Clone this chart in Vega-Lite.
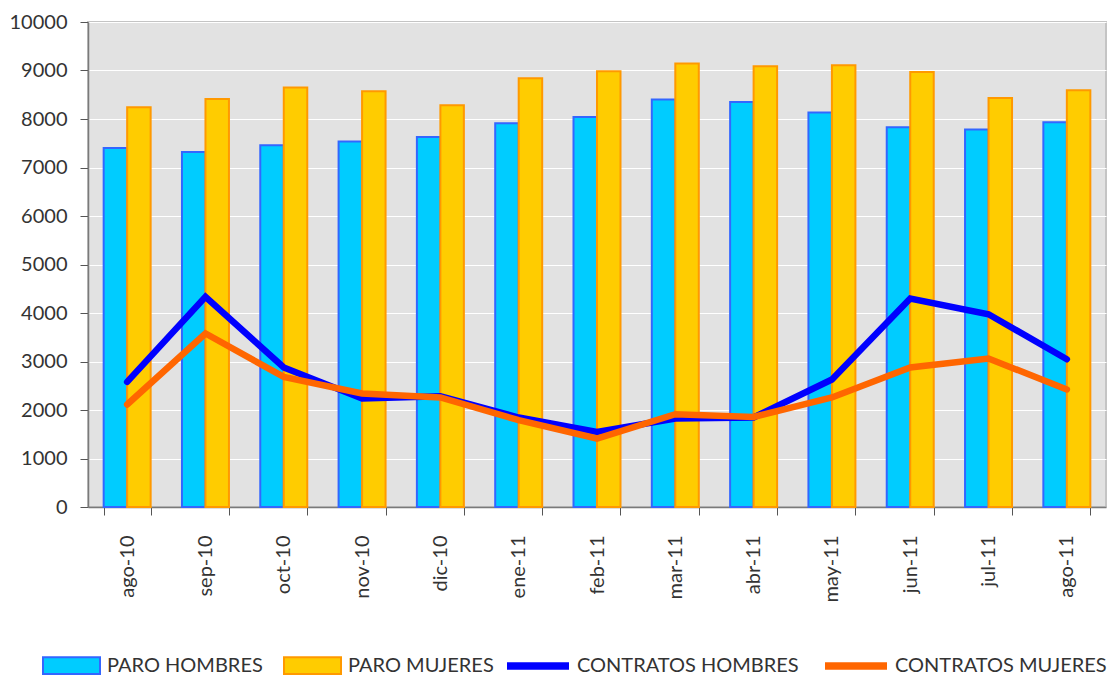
{
  "$schema": "https://vega.github.io/schema/vega-lite/v6.json",
  "width": 1018,
  "height": 485,
  "autosize": {"type": "none"},
  "padding": {"left": 88, "top": 22, "right": 9, "bottom": 172},
  "background": "white",
  "config": {
    "font": "Lato",
    "view": {"fill": "#e2e2e2", "stroke": "#c4c4c4", "strokeWidth": 2},
    "axis": {"labelFont": "Lato", "labelFontSize": 20, "labelColor": "#333333", "domainColor": "#7a7a7a", "domainWidth": 1.5, "tickColor": "#555555", "tickSize": 8, "title": null},
    "legend": {"labelFont": "Lato", "labelFontSize": 20, "labelColor": "#333333", "title": null, "labelLimit": 0}
  },
  "datasets": {
    "paro": [
      {"mes": "ago-10", "serie": "PARO HOMBRES", "valor": 7404},
      {"mes": "sep-10", "serie": "PARO HOMBRES", "valor": 7322},
      {"mes": "oct-10", "serie": "PARO HOMBRES", "valor": 7460},
      {"mes": "nov-10", "serie": "PARO HOMBRES", "valor": 7536},
      {"mes": "dic-10", "serie": "PARO HOMBRES", "valor": 7631},
      {"mes": "ene-11", "serie": "PARO HOMBRES", "valor": 7913},
      {"mes": "feb-11", "serie": "PARO HOMBRES", "valor": 8043},
      {"mes": "mar-11", "serie": "PARO HOMBRES", "valor": 8402},
      {"mes": "abr-11", "serie": "PARO HOMBRES", "valor": 8353},
      {"mes": "may-11", "serie": "PARO HOMBRES", "valor": 8134},
      {"mes": "jun-11", "serie": "PARO HOMBRES", "valor": 7831},
      {"mes": "jul-11", "serie": "PARO HOMBRES", "valor": 7784},
      {"mes": "ago-11", "serie": "PARO HOMBRES", "valor": 7934},
      {"mes": "ago-10", "serie": "PARO MUJERES", "valor": 8243},
      {"mes": "sep-10", "serie": "PARO MUJERES", "valor": 8414},
      {"mes": "oct-10", "serie": "PARO MUJERES", "valor": 8649},
      {"mes": "nov-10", "serie": "PARO MUJERES", "valor": 8573},
      {"mes": "dic-10", "serie": "PARO MUJERES", "valor": 8285},
      {"mes": "ene-11", "serie": "PARO MUJERES", "valor": 8841},
      {"mes": "feb-11", "serie": "PARO MUJERES", "valor": 8985},
      {"mes": "mar-11", "serie": "PARO MUJERES", "valor": 9144},
      {"mes": "abr-11", "serie": "PARO MUJERES", "valor": 9089},
      {"mes": "may-11", "serie": "PARO MUJERES", "valor": 9109},
      {"mes": "jun-11", "serie": "PARO MUJERES", "valor": 8971},
      {"mes": "jul-11", "serie": "PARO MUJERES", "valor": 8435},
      {"mes": "ago-11", "serie": "PARO MUJERES", "valor": 8594}
    ],
    "contratos": [
      {"mes": "ago-10", "serie": "CONTRATOS HOMBRES", "valor": 2579},
      {"mes": "sep-10", "serie": "CONTRATOS HOMBRES", "valor": 4332},
      {"mes": "oct-10", "serie": "CONTRATOS HOMBRES", "valor": 2876},
      {"mes": "nov-10", "serie": "CONTRATOS HOMBRES", "valor": 2237},
      {"mes": "dic-10", "serie": "CONTRATOS HOMBRES", "valor": 2285},
      {"mes": "ene-11", "serie": "CONTRATOS HOMBRES", "valor": 1845},
      {"mes": "feb-11", "serie": "CONTRATOS HOMBRES", "valor": 1549},
      {"mes": "mar-11", "serie": "CONTRATOS HOMBRES", "valor": 1825},
      {"mes": "abr-11", "serie": "CONTRATOS HOMBRES", "valor": 1845},
      {"mes": "may-11", "serie": "CONTRATOS HOMBRES", "valor": 2629},
      {"mes": "jun-11", "serie": "CONTRATOS HOMBRES", "valor": 4299},
      {"mes": "jul-11", "serie": "CONTRATOS HOMBRES", "valor": 3975},
      {"mes": "ago-11", "serie": "CONTRATOS HOMBRES", "valor": 3047},
      {"mes": "ago-10", "serie": "CONTRATOS MUJERES", "valor": 2113},
      {"mes": "sep-10", "serie": "CONTRATOS MUJERES", "valor": 3577},
      {"mes": "oct-10", "serie": "CONTRATOS MUJERES", "valor": 2682},
      {"mes": "nov-10", "serie": "CONTRATOS MUJERES", "valor": 2340},
      {"mes": "dic-10", "serie": "CONTRATOS MUJERES", "valor": 2258},
      {"mes": "ene-11", "serie": "CONTRATOS MUJERES", "valor": 1790},
      {"mes": "feb-11", "serie": "CONTRATOS MUJERES", "valor": 1412},
      {"mes": "mar-11", "serie": "CONTRATOS MUJERES", "valor": 1913},
      {"mes": "abr-11", "serie": "CONTRATOS MUJERES", "valor": 1858},
      {"mes": "may-11", "serie": "CONTRATOS MUJERES", "valor": 2258},
      {"mes": "jun-11", "serie": "CONTRATOS MUJERES", "valor": 2876},
      {"mes": "jul-11", "serie": "CONTRATOS MUJERES", "valor": 3062},
      {"mes": "ago-11", "serie": "CONTRATOS MUJERES", "valor": 2423}
    ]
  },
  "encoding": {
    "x": {
      "field": "mes", "type": "nominal", "sort": null,
      "scale": {"paddingInner": 0.4, "paddingOuter": 0.2},
      "axis": {"labelAngle": 270, "labelAlign": "right", "labelBaseline": "middle", "labelPadding": 20, "tickBand": "extent", "grid": false}
    },
    "y": {
      "field": "valor", "type": "quantitative",
      "scale": {"domain": [0, 10000], "nice": false},
      "axis": {"values": [0, 1000, 2000, 3000, 4000, 5000, 6000, 7000, 8000, 9000, 10000], "format": "d", "grid": true, "gridColor": "#ffffff", "gridWidth": 1.2, "labelPadding": 13}
    }
  },
  "layer": [
    {
      "data": {"name": "paro"},
      "mark": {"type": "bar", "strokeWidth": 2},
      "encoding": {
        "xOffset": {"field": "serie", "type": "nominal", "scale": {"paddingInner": 0, "paddingOuter": 0}},
        "fill": {
          "field": "serie", "type": "nominal",
          "scale": {"domain": ["PARO HOMBRES", "PARO MUJERES"], "range": ["#00ccff", "#ffcc00"]},
          "legend": {"orient": "none", "legendX": -46, "legendY": 614, "direction": "horizontal", "symbolType": "M-1,-0.29H1V0.29H-1Z", "symbolSize": 3249, "symbolStrokeWidth": 2, "labelOffset": 6, "columnPadding": 17, "padding": 0}
        },
        "stroke": {
          "field": "serie", "type": "nominal",
          "scale": {"domain": ["PARO HOMBRES", "PARO MUJERES"], "range": ["#3366ff", "#ff9900"]}
        }
      }
    },
    {
      "data": {"name": "contratos"},
      "mark": {"type": "line", "strokeWidth": 6.5, "strokeCap": "round"},
      "encoding": {
        "color": {
          "field": "serie", "type": "nominal",
          "scale": {"domain": ["CONTRATOS HOMBRES", "CONTRATOS MUJERES"], "range": ["#0000ff", "#ff6600"]},
          "legend": {"orient": "none", "legendX": 415, "legendY": 609, "direction": "horizontal", "symbolType": "stroke", "symbolSize": 3844, "symbolStrokeWidth": 7.5, "labelOffset": 4, "columnPadding": 11, "padding": 0}
        }
      }
    }
  ]
}
